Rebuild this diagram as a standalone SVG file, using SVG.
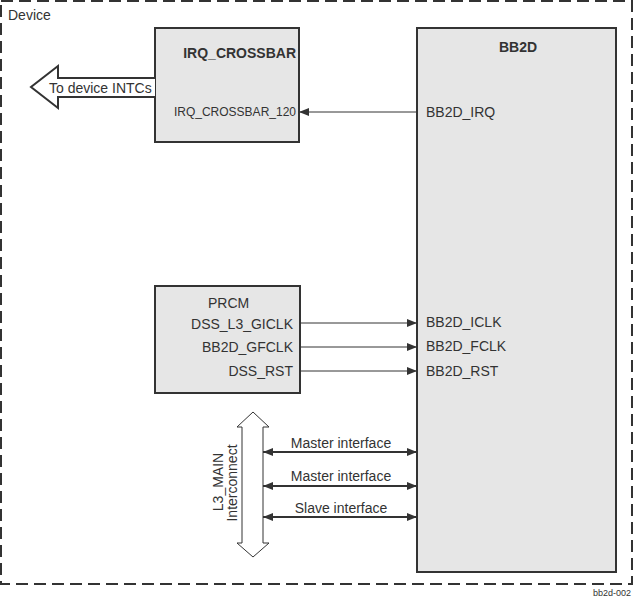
<svg xmlns="http://www.w3.org/2000/svg" width="634" height="598" viewBox="0 0 634 598">
<style>
text{font-family:"Liberation Sans",Arial,sans-serif;fill:#333;font-size:14px}
.b{font-weight:bold}
.s12{font-size:12px}
.s9{font-size:9px}
.box{fill:#e6e6e6;stroke:#333;stroke-width:2}
.ln{stroke:#333;stroke-width:1;fill:none}
.dl{stroke:#333;stroke-width:2;fill:none}
</style>
<defs>
<marker id="ah" markerWidth="10" markerHeight="8" refX="10" refY="4" orient="auto" markerUnits="userSpaceOnUse"><path d="M0,0 L10,4 L0,8 Z" fill="#333"/></marker>
<marker id="ahs" markerWidth="10" markerHeight="8" refX="10" refY="4" orient="auto-start-reverse" markerUnits="userSpaceOnUse"><path d="M0,0 L10,4 L0,8 Z" fill="#333"/></marker>
</defs>
<rect x="1" y="1" width="631" height="583" fill="none" stroke="#333" stroke-width="2" stroke-dasharray="12,6"/>
<text x="8" y="20">Device</text>
<g id="irq_crossbar">
<rect class="box" x="155" y="28" width="144" height="114"/>
<text class="b" x="296" y="58" text-anchor="end">IRQ_CROSSBAR</text>
<text class="s12" x="296" y="116" text-anchor="end">IRQ_CROSSBAR_120</text>
</g>
<g id="to_intcs">
<path d="M155,78 L58,78 L58,66 L31,87 L58,108 L58,97 L155,97" fill="#fff" stroke="#333" stroke-width="2"/>
<text x="49" y="93">To device INTCs</text>
</g>
<g id="bb2d">
<rect class="box" x="417" y="28" width="199" height="544"/>
<text class="b" x="518" y="52" text-anchor="middle">BB2D</text>
<text x="426" y="117">BB2D_IRQ</text>
<text x="426" y="327">BB2D_ICLK</text>
<text x="426" y="351">BB2D_FCLK</text>
<text x="426" y="376">BB2D_RST</text>
</g>
<g id="prcm">
<rect class="box" x="155" y="286" width="145" height="107"/>
<text x="208" y="308">PRCM</text>
<text x="293" y="329" text-anchor="end">DSS_L3_GICLK</text>
<text x="293" y="352" text-anchor="end">BB2D_GFCLK</text>
<text x="293" y="376" text-anchor="end">DSS_RST</text>
</g>
<g id="l3_main">
<path d="M253,412 L269,427 L263,427 L263,543 L269,543 L253,557 L237,543 L242,543 L242,427 L237,427 Z" fill="#fff" stroke="#333" stroke-width="1"/>
<text transform="translate(223,482) rotate(-90)" text-anchor="middle">L3_MAIN</text>
<text transform="translate(237,483) rotate(-90)" text-anchor="middle">Interconnect</text>
</g>
<g id="connectors">
<line class="ln" x1="417" y1="112" x2="299" y2="112" marker-end="url(#ah)"/>
<line class="ln" x1="300" y1="323" x2="417" y2="323" marker-end="url(#ah)"/>
<line class="ln" x1="300" y1="347" x2="417" y2="347" marker-end="url(#ah)"/>
<line class="ln" x1="300" y1="371" x2="417" y2="371" marker-end="url(#ah)"/>
<line class="dl" x1="263" y1="452" x2="417" y2="452" marker-start="url(#ahs)" marker-end="url(#ahs)"/>
<line class="dl" x1="263" y1="486" x2="417" y2="486" marker-start="url(#ahs)" marker-end="url(#ahs)"/>
<line class="dl" x1="263" y1="517" x2="417" y2="517" marker-start="url(#ahs)" marker-end="url(#ahs)"/>
<text x="341" y="448" text-anchor="middle">Master interface</text>
<text x="341" y="481" text-anchor="middle">Master interface</text>
<text x="341" y="513" text-anchor="middle">Slave interface</text>
</g>
<text class="s9" x="631" y="596" text-anchor="end">bb2d-002</text>
</svg>
